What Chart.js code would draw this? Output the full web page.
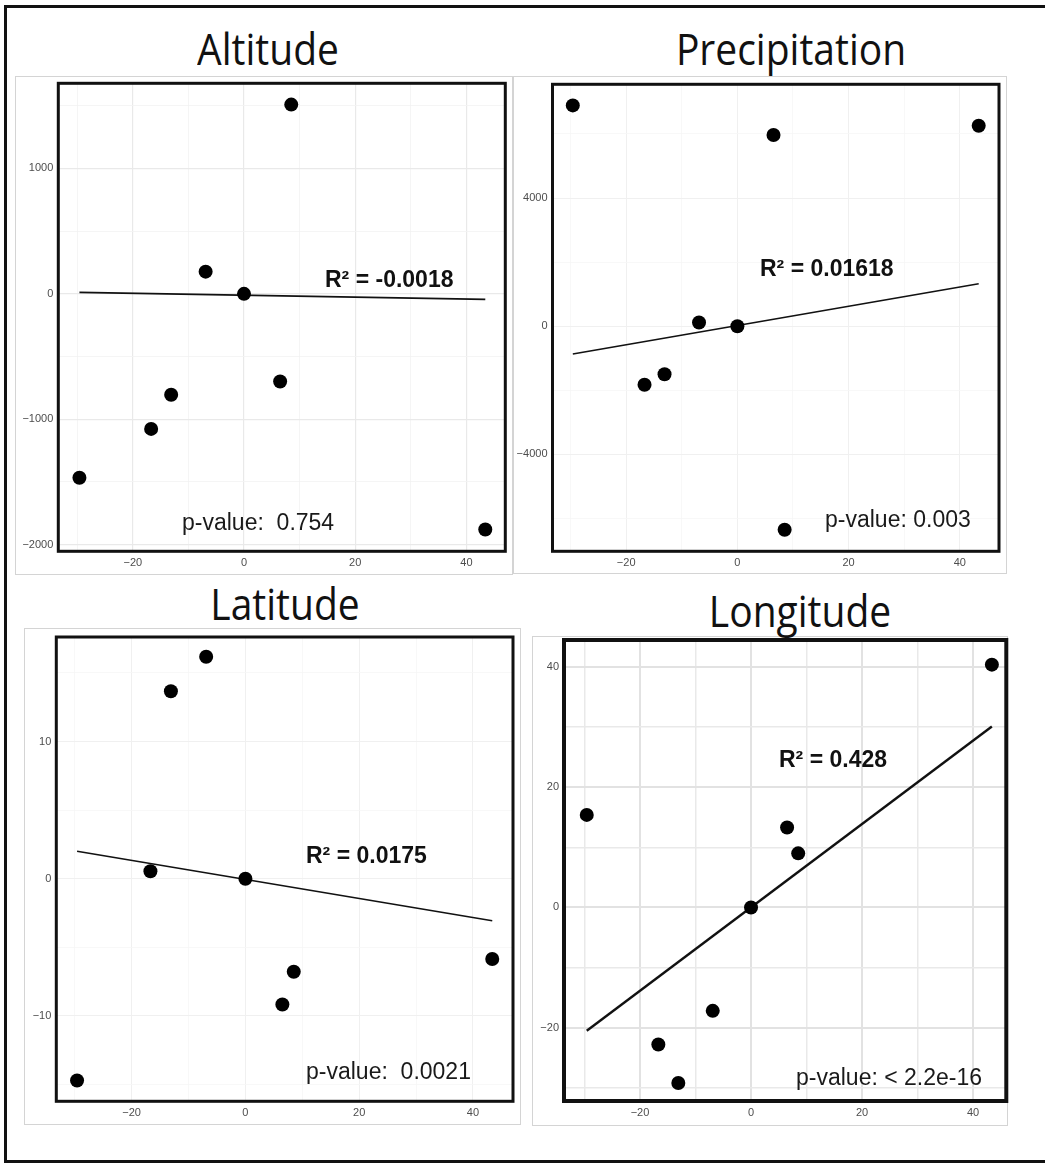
<!DOCTYPE html>
<html>
<head>
<meta charset="utf-8">
<script src="https://cdn.jsdelivr.net/npm/chart.js@4.4.1/dist/chart.umd.min.js"></script>
<style>
  html, body { margin: 0; padding: 0; background: #fff; }
  body { width: 1045px; height: 1163px; position: relative; overflow: hidden; }
  canvas { position: absolute; left: 0; top: 0; }
  .frame { position: absolute; left: 4px; top: 5px; width: 1100px; height: 1152px;
           border-left: 3px solid #111; border-top: 3px solid #111; border-bottom: 3px solid #111; }
  .imgbox { position: absolute; border: 1px solid #d4d4d4; box-sizing: border-box; }
  .title { position: absolute; width: 400px; text-align: center; font-family: 'Open Sans', sans-serif;
           font-size: 39px; line-height: 1; color: #111; transform: scaleY(1.12); transform-origin: 50% 0; white-space: nowrap; }
  .r2 { position: absolute; font-family: 'Liberation Sans', Arial, sans-serif; font-weight: bold;
        font-size: 23px; line-height: 1; color: #111; white-space: nowrap; z-index: 5; }
  .pv { position: absolute; font-family: 'Liberation Sans', Arial, sans-serif;
        font-size: 23px; line-height: 1; color: #1a1a1a; white-space: nowrap; z-index: 5; }
</style>
</head>
<body>
<div class="frame"></div>
<div class="imgbox" style="left:15px;top:76px;width:498px;height:499px;"></div>
<div class="imgbox" style="left:513px;top:76px;width:494px;height:498px;"></div>
<div class="imgbox" style="left:24px;top:628px;width:497px;height:497px;background:#fff;"></div>
<div class="imgbox" style="left:532px;top:636px;width:476px;height:490px;background:#fff;"></div>

<div class="title" style="left:68px;top:25.5px;">Altitude</div>
<div class="title" style="left:591px;top:26px;">Precipitation</div>
<div class="title" style="left:85px;top:580.5px;">Latitude</div>
<div class="title" style="left:600px;top:588px;">Longitude</div>

<div class="r2" style="left:325px;top:267.5px;">R² = -0.0018</div>
<div class="pv" style="left:182px;top:510.5px;">p-value:&nbsp; 0.754</div>
<div class="r2" style="left:760px;top:257.3px;">R² = 0.01618</div>
<div class="pv" style="left:825px;top:507.5px;">p-value: 0.003</div>
<div class="r2" style="left:306px;top:844.3px;">R² = 0.0175</div>
<div class="pv" style="left:306px;top:1060px;">p-value:&nbsp; 0.0021</div>
<div class="r2" style="left:779px;top:747.5px;">R² = 0.428</div>
<div class="pv" style="left:796px;top:1066.3px;">p-value: &lt; 2.2e-16</div>

<canvas id="c1" width="1045" height="1163"></canvas>
<canvas id="c2" width="1045" height="1163"></canvas>
<canvas id="c3" width="1045" height="1163"></canvas>
<canvas id="c4" width="1045" height="1163"></canvas>

<script>
// ---- data ----
const xValues = [-29.6, -16.7, -13.1, -6.9, 0, 6.5, 8.5, 43.4];

const altitudeY      = [-1466, -1077, -805, 177, 0, -699, 1509, -1879];
const precipitationY = [6889, -1825, -1501, 115, 0, 5968, -6350, 6256];
const latitudeY      = [-14.7, 0.55, 13.67, 16.18, 0, -9.16, -6.78, -5.85];
const longitudeY     = [15.4, -22.8, -29.2, -17.2, 0, 13.3, 9.0, 40.4];

const fitX           = [-29.6, 43.4];
const altitudeFit    = [12, -44];
const precipitationFit = [-867, 1326];
const latitudeFit    = [2.0, -3.06];
const longitudeFit   = [-20.5, 30.1];

const xGridTicks  = [-30, -20, -10, 0, 10, 20, 30, 40];
const xLabelTicks = [-20, 0, 20, 40];

const altGridTicks  = [-2000, -1500, -1000, -500, 0, 500, 1000, 1500];
const altLabelTicks = [-2000, -1000, 0, 1000];
const preGridTicks  = [-6000, -4000, -2000, 0, 2000, 4000, 6000];
const preLabelTicks = [-4000, 0, 4000];
const latGridTicks  = [-15, -10, -5, 0, 5, 10, 15];
const latLabelTicks = [-10, 0, 10];
const lonGridTicks  = [-30, -20, -10, 0, 10, 20, 30, 40];
const lonLabelTicks = [-20, 0, 20, 40];

// ---- helpers ----
const PAGE_W = 1045, PAGE_H = 1163;
const Y_AXIS_W = 50, X_AXIS_H = 22;

function fmt(v) { return String(v).replace('-', '\u2212'); }

const borderPlugin = {
  id: 'panelBorder',
  afterDraw(chart, args, opts) {
    const a = chart.chartArea, ctx = chart.ctx;
    ctx.save();
    ctx.strokeStyle = '#111';
    ctx.lineWidth = opts.width || 3;
    ctx.strokeRect(a.left, a.top, a.right - a.left, a.bottom - a.top);
    ctx.restore();
  }
};

function makePanel(id, cfg) {
  const pts = xValues.map((x, i) => ({ x: x, y: cfg.y[i] }));
  const fit = fitX.map((x, i) => ({ x: x, y: cfg.fit[i] }));
  const gridOpts = (labels) => ({
    color: (c) => labels.includes(c.tick.value) ? cfg.majorColor : cfg.minorColor,
    lineWidth: (c) => labels.includes(c.tick.value) ? cfg.majorW : cfg.minorW,
    drawTicks: false
  });
  new Chart(document.getElementById(id), {
    type: 'scatter',
    data: {
      datasets: [
        { data: pts, pointRadius: 7, pointHoverRadius: 7, backgroundColor: '#000', borderWidth: 0, clip: false, order: 1 },
        { type: 'line', data: fit, showLine: true, borderColor: '#111', borderWidth: cfg.lineW,
          pointRadius: 0, fill: false, clip: false, order: 2 }
      ]
    },
    options: {
      responsive: false, animation: false, devicePixelRatio: 1,
      events: [],
      layout: { padding: { left: cfg.L - Y_AXIS_W, top: cfg.T, right: PAGE_W - cfg.R, bottom: PAGE_H - cfg.B - X_AXIS_H } },
      plugins: { legend: { display: false }, tooltip: { enabled: false }, panelBorder: { width: cfg.borderW } },
      scales: {
        x: {
          type: 'linear', min: cfg.xmin, max: cfg.xmax,
          afterBuildTicks: (s) => { s.ticks = xGridTicks.map(v => ({ value: v })); },
          afterFit: (s) => { s.height = X_AXIS_H; },
          ticks: { callback: (v) => xLabelTicks.includes(v) ? fmt(v) : '', autoSkip: false, maxRotation: 0,
                   font: { family: 'Liberation Sans', size: 11 }, color: '#4d4d4d', padding: 5 },
          grid: gridOpts(xLabelTicks),
          border: { display: false }
        },
        y: {
          type: 'linear', min: cfg.ymin, max: cfg.ymax,
          afterBuildTicks: (s) => { s.ticks = cfg.yGrid.map(v => ({ value: v })); },
          afterFit: (s) => { s.width = Y_AXIS_W; },
          ticks: { callback: (v) => cfg.yLabels.includes(v) ? fmt(v) : '', autoSkip: false,
                   font: { family: 'Liberation Sans', size: 11 }, color: '#4d4d4d', padding: 5 },
          grid: gridOpts(cfg.yLabels),
          border: { display: false }
        }
      }
    },
    plugins: [borderPlugin]
  });
}

makePanel('c1', { y: altitudeY, fit: altitudeFit, L: 58.3, R: 505.3, T: 83.3, B: 551.3,
  xmin: -33.4, xmax: 47.0, ymin: -2053, ymax: 1679, yGrid: altGridTicks, yLabels: altLabelTicks,
  majorColor: '#e9e9e9', minorColor: '#f3f3f3', majorW: 1.2, minorW: 0.8, lineW: 1.6, borderW: 3 });

makePanel('c2', { y: precipitationY, fit: precipitationFit, L: 552.5, R: 999, T: 84.3, B: 551.3,
  xmin: -33.25, xmax: 47.05, ymin: -7023, ymax: 7548, yGrid: preGridTicks, yLabels: preLabelTicks,
  majorColor: '#f0f0f0', minorColor: '#f6f6f6', majorW: 1, minorW: 0.8, lineW: 1.6, borderW: 3 });

makePanel('c3', { y: latitudeY, fit: latitudeFit, L: 56.3, R: 513, T: 637, B: 1101.3,
  xmin: -33.25, xmax: 47.05, ymin: -16.22, ymax: 17.62, yGrid: latGridTicks, yLabels: latLabelTicks,
  majorColor: '#f0f0f0', minorColor: '#f6f6f6', majorW: 1, minorW: 0.8, lineW: 1.6, borderW: 3 });

makePanel('c4', { y: longitudeY, fit: longitudeFit, L: 564, R: 1006.3, T: 640, B: 1101,
  xmin: -33.7, xmax: 46.0, ymin: -32.2, ymax: 44.5, yGrid: lonGridTicks, yLabels: lonLabelTicks,
  majorColor: '#e2e2e2', minorColor: '#e9e9e9', majorW: 2, minorW: 1.5, lineW: 2.4, borderW: 4 });
</script>
</body>
</html>
